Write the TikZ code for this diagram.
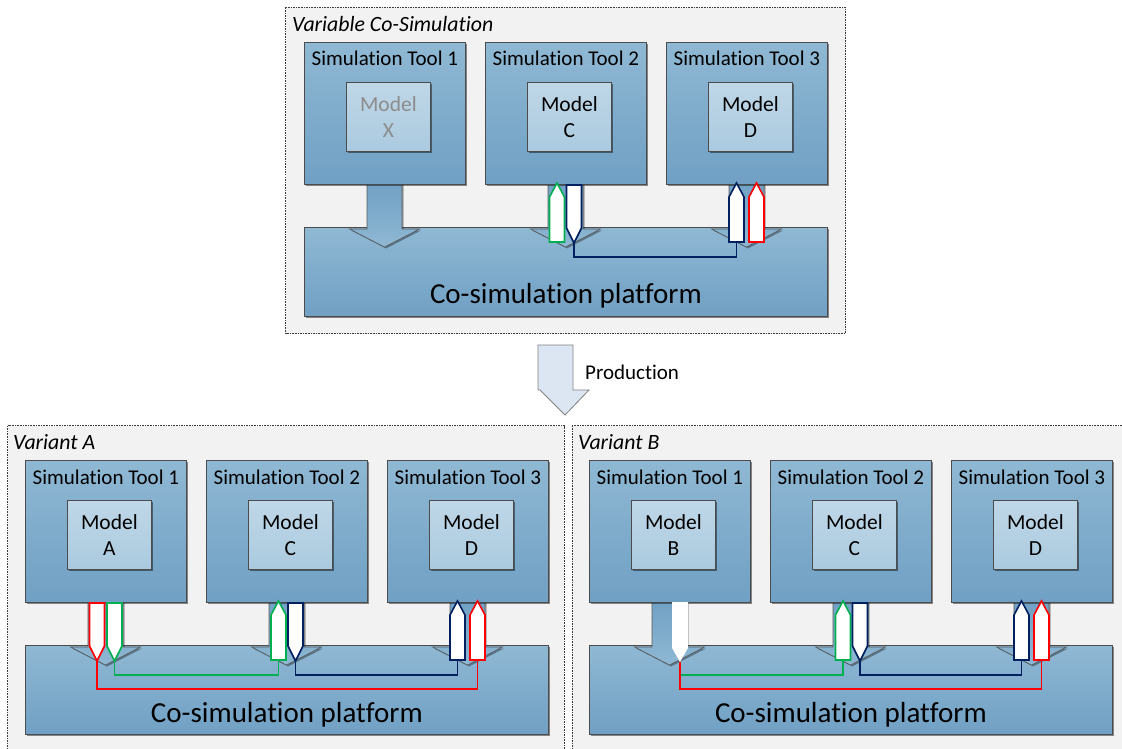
\documentclass[tikz,border=0pt]{standalone}
\usepackage{fontspec}
\setmainfont{Carlito}[Ligatures={NoCommon}]
\usetikzlibrary{shadows,calc}

\definecolor{panelbg}{RGB}{242,242,242}
\definecolor{framegray}{RGB}{60,60,60}
\definecolor{tooltop}{RGB}{143,184,211}
\definecolor{toolbot}{RGB}{112,160,196}
\definecolor{modeltop}{RGB}{191,215,231}
\definecolor{modelbot}{RGB}{171,202,223}
\definecolor{lgreen}{RGB}{0,176,80}
\definecolor{lnavy}{RGB}{0,32,96}
\definecolor{lred}{RGB}{255,0,0}
\definecolor{prodfill}{RGB}{220,230,242}
\definecolor{modelgray}{RGB}{140,140,140}

\tikzset{
  panel/.style={draw=framegray, dash pattern=on 1.6pt off 1pt, line width=0.8pt, fill=panelbg},
  boxshadow/.style={drop shadow={shadow xshift=2pt, shadow yshift=-2pt, opacity=0.45, fill=black}},
  toolbox/.style={draw=black!70, line width=0.8pt, top color=tooltop, bottom color=toolbot,
    minimum width=161pt, minimum height=142pt, inner sep=0pt, anchor=north west, boxshadow},
  modelbox/.style={draw=black!70, line width=0.8pt, top color=modeltop, bottom color=modelbot,
    minimum width=84pt, minimum height=69pt, inner sep=0pt, anchor=north west, align=center,
    font=\fontsize{21.5}{26}\selectfont, boxshadow},
  platform/.style={draw=black!70, line width=0.8pt, top color=tooltop, bottom color=toolbot,
    minimum width=523pt, minimum height=89pt, inner sep=0pt, anchor=north west, boxshadow},
  blockarrow/.style={draw=black!65, line width=0.6pt, top color=toolbot, bottom color=tooltop,
    drop shadow={shadow xshift=1.5pt, shadow yshift=-1.5pt, opacity=0.35, fill=black}},
  slotarrow/.style={fill=white, line width=1.6pt, line join=miter},
  wire/.style={line width=1.1pt},
  txt/.style={inner sep=0pt},
  toollabel/.style={txt, anchor=base, font=\fontsize{21}{25}\selectfont},
  platlabel/.style={txt, anchor=base, font=\fontsize{29}{34}\selectfont},
  panellabel/.style={txt, anchor=base west, font=\fontsize{21.8}{25}\selectfont\itshape},
  prodarrow/.style={draw=black!50, line width=0.8pt, fill=prodfill, line join=miter}
}

% one simulation tool: block arrow to the platform, tool box, label and model box
% #1 name, #2 left x, #3 top y, #4 tool number, #5 model letter, #6 model text options
\newcommand\simtool[6]{%
  \pgfmathsetmacro\stcx{#2+80.5}%
  \pgfmathsetmacro\sttb{#3+142}%
  \path[blockarrow] (\stcx-17.5,\sttb-3) -- (\stcx-17.5,\sttb+45) -- (\stcx-35,\sttb+45)
     -- (\stcx,\sttb+63) -- (\stcx+35,\sttb+45) -- (\stcx+17.5,\sttb+45)
     -- (\stcx+17.5,\sttb-3) -- cycle;
  \node[toolbox] (#1) at (#2,#3) {};
  \node[toollabel] (#1-label) at ($(#1.north)+(0,24)$) {Simulation Tool #4};
  \node[modelbox, #6] (#1-model) at (#2+42,#3+40) {Model\\#5};
}

% small outlined arrows in a block arrow's shaft: #1 name, #2 x centre, #3 tool bottom y, #4 colour
\newcommand\upslot[4]{%
  \draw[slotarrow, draw=#4] (#2-7.5,#3+58) -- (#2-7.5,#3+13) -- (#2,#3-1)
     -- (#2+7.5,#3+13) -- (#2+7.5,#3+58) -- cycle;
  \coordinate (#1) at (#2,#3+58);
}
\newcommand\downslot[4]{%
  \draw[slotarrow, draw=#4] (#2-7.5,#3+1) -- (#2+7.5,#3+1) -- (#2+7.5,#3+44)
     -- (#2,#3+59) -- (#2-7.5,#3+44) -- cycle;
  \coordinate (#1) at (#2,#3+59);
}

\begin{document}
\begin{tikzpicture}[x=1pt, y=-1pt]
\useasboundingbox (0,0) rectangle (1122,749);

% ---------------- variable co-simulation ----------------
\path[panel] (285.5,7.5) rectangle (845.5,333.5);
\node[panellabel] (vlabel) at (292,32) {Variable Co-Simulation};
\node[platform] (vplat) at (304,227) {};
\node[platlabel] (vplat-label) at ($(vplat.north)+(0,76)$) {Co-simulation platform};
\simtool{v1}{304}{42}{1}{X}{text=modelgray}
\simtool{v2}{485}{42}{2}{C}{}
\simtool{v3}{666}{42}{3}{D}{}
\upslot{v2g}{557}{184}{lgreen}
\downslot{v2n}{574}{184}{lnavy}
\upslot{v3n}{736.5}{184}{lnavy}
\upslot{v3r}{756.5}{184}{lred}
\draw[wire, lnavy] (v2n) -- ($(v2n)+(0,14)$) -| (v3n);

% ---------------- production step ----------------
\draw[prodarrow] (538,345) -- (573,345) -- (573,390) -- (589,390) -- (565,415)
   -- (540,390) -- (538,390) -- cycle;
\node[txt, anchor=base west, font=\fontsize{21}{25}\selectfont] (prod) at (585,379) {Production};

% ---------------- variant A ----------------
\path[panel] (7.5,425.5) rectangle (564,760);
\node[panellabel] (alabel) at (13,449) {Variant A};
\node[platform] (aplat) at (25,645) {};
\node[platlabel] (aplat-label) at ($(aplat.north)+(0,77)$) {Co-simulation platform};
\simtool{a1}{25}{460}{1}{A}{}
\simtool{a2}{206}{460}{2}{C}{}
\simtool{a3}{387}{460}{3}{D}{}
\downslot{a1r}{97}{602}{lred}
\downslot{a1g}{114.5}{602}{lgreen}
\upslot{a2g}{278.5}{602}{lgreen}
\downslot{a2n}{295.5}{602}{lnavy}
\upslot{a3n}{457.5}{602}{lnavy}
\upslot{a3r}{477.5}{602}{lred}
\draw[wire, lgreen] (a1g) -- ($(a1g)+(0,14)$) -| (a2g);
\draw[wire, lnavy] (a2n) -- ($(a2n)+(0,14)$) -| (a3n);
\draw[wire, lred] (a1r) -- ($(a1r)+(0,28)$) -| (a3r);

% ---------------- variant B ----------------
\path[panel] (572,425.5) rectangle (1130,760);
\node[panellabel] (blabel) at (578,449) {Variant B};
\node[platform] (bplat) at (589,645) {};
\node[platlabel] (bplat-label) at ($(bplat.north)+(0,77)$) {Co-simulation platform};
\simtool{b1}{589}{460}{1}{B}{}
\simtool{b2}{770}{460}{2}{C}{}
\simtool{b3}{951}{460}{3}{D}{}
\fill[white] (672,602) -- (688,602) -- (688,648) -- (680,662) -- (672,648) -- cycle;
\coordinate (b1w) at (680,662);
\upslot{b2g}{843}{602}{lgreen}
\downslot{b2n}{860}{602}{lnavy}
\upslot{b3n}{1021.5}{602}{lnavy}
\upslot{b3r}{1041.5}{602}{lred}
\draw[wire, lgreen] (b1w) -- ($(b1w)+(0,13)$) -| (b2g);
\draw[wire, lnavy] (b2n) -- ($(b2n)+(0,14)$) -| (b3n);
\draw[wire, lred] (b1w) -- ($(b1w)+(0,27)$) -| (b3r);
\end{tikzpicture}
\end{document}
